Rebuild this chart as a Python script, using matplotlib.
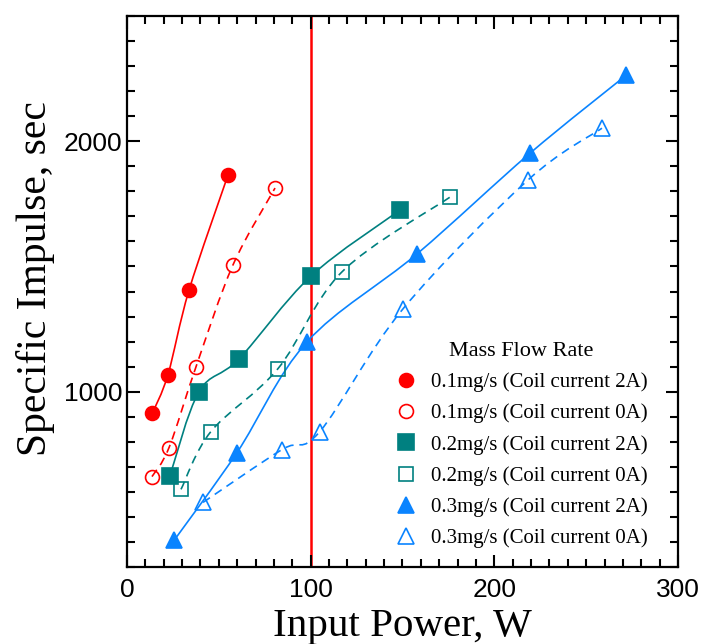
import numpy as np
import matplotlib
matplotlib.use("Agg")
import matplotlib.pyplot as plt
from matplotlib.path import Path
from matplotlib.patches import PathPatch
from matplotlib.lines import Line2D
from matplotlib.ticker import MultipleLocator

# ---- data ----
p01_2A = [13.8, 22.3, 33.8, 55.0]
i01_2A = [914, 1068, 1406, 1865]
p01_0A = [13.6, 22.9, 37.6, 57.7, 80.6]
i01_0A = [661, 777, 1100, 1506, 1813]
p02_2A = [23.4, 39.2, 61.0, 100.2, 148.6]
i02_2A = [665, 1000, 1131, 1462, 1725]
p02_0A = [29.4, 45.7, 82.2, 117.0, 175.9]
i02_0A = [610, 841, 1092, 1478, 1777]
p03_2A = [25.6, 59.9, 98.0, 157.9, 219.4, 271.7]
i03_2A = [406, 757, 1199, 1550, 1952, 2263]
p03_0A = [41.4, 84.4, 105.0, 150.3, 218.3, 258.6]
i03_0A = [558, 769, 841, 1331, 1845, 2052]
labels = ["0.1mg/s (Coil current 2A)", "0.1mg/s (Coil current 0A)",
          "0.2mg/s (Coil current 2A)", "0.2mg/s (Coil current 0A)",
          "0.3mg/s (Coil current 2A)", "0.3mg/s (Coil current 0A)"]
limit_power = 100

RED = "#ff0000"
TEAL = "#008080"
BLUE = "#0a84ff"

plt.rcParams['font.family'] = ['Liberation Sans', 'DejaVu Sans']

fig = plt.figure(figsize=(7.02, 6.44), dpi=100)
ax = fig.add_axes([127/702, 1-567/644, (678-127)/702, (567-16)/644])


def smooth_path(x, y):
    pts = np.column_stack([x, y]).astype(float)
    n = len(pts)
    verts = [pts[0]]
    codes = [Path.MOVETO]
    for i in range(n - 1):
        p0 = pts[i - 1] if i > 0 else pts[i]
        p1 = pts[i]
        p2 = pts[i + 1]
        p3 = pts[i + 2] if i + 2 < n else pts[i + 1]
        c1 = p1 + (p2 - p0) / 6.0
        c2 = p2 - (p3 - p1) / 6.0
        verts += [c1, c2, p2]
        codes += [Path.CURVE4] * 3
    return Path(verts, codes)


series = [
    (p01_2A, i01_2A, RED, 'o', True, '-', 10),
    (p01_0A, i01_0A, RED, 'o', False, '--', 10),
    (p02_2A, i02_2A, TEAL, 's', True, '-', 11),
    (p02_0A, i02_0A, TEAL, 's', False, '--', 10),
    (p03_2A, i03_2A, BLUE, '^', True, '-', 11),
    (p03_0A, i03_0A, BLUE, '^', False, '--', 11),
]

handles = []
for (x, y, c, m, filled, ls, ms), lab in zip(series, labels):
    patch = PathPatch(smooth_path(x, y), fill=False, edgecolor=c, lw=1.2,
                      linestyle=(0, (5, 3.5)) if ls == '--' else '-', zorder=2)
    ax.add_patch(patch)
    ax.plot(x, y, linestyle='none', marker=m, ms=ms, color=c,
            mfc=c if filled else 'none', mec=c, mew=1.2, zorder=3)
    handles.append(Line2D([], [], linestyle='none', marker=m, ms=ms, color=c,
                          mfc=c if filled else 'none', mec=c, mew=1.2))

ax.axvline(limit_power, color=RED, lw=1.8, zorder=1)

ax.set_xlim(0, 300)
ax.set_ylim(300, 2500)
ax.xaxis.set_major_locator(MultipleLocator(100))
ax.xaxis.set_minor_locator(MultipleLocator(10))
ax.yaxis.set_major_locator(MultipleLocator(1000))
ax.yaxis.set_minor_locator(MultipleLocator(100))
ax.tick_params(which='both', direction='in', top=True, right=True, width=1.5,
               labelsize=19)
ax.tick_params(which='major', length=9)
ax.tick_params(which='minor', length=6)
ax.tick_params(axis='x', pad=8)
for s in ax.spines.values():
    s.set_linewidth(1.6)

serif = ['Liberation Serif', 'DejaVu Serif']
ax.set_xlabel("Input Power, W", fontsize=29.5, family=serif, labelpad=4)
ax.set_ylabel("Specific Impulse, sec", fontsize=30, family=serif)
ax.yaxis.set_label_coords(-0.131, 0.524)

leg = ax.legend(handles, labels, title="Mass Flow Rate", loc='lower right',
                bbox_to_anchor=(0.98, 0.0), frameon=False,
                prop={'family': serif, 'size': 15}, handletextpad=0.6,
                labelspacing=0.55, handlelength=1.2)
leg.get_title().set_fontfamily(serif)
leg.get_title().set_fontsize(16)

fig.savefig("out.png", dpi=100)
